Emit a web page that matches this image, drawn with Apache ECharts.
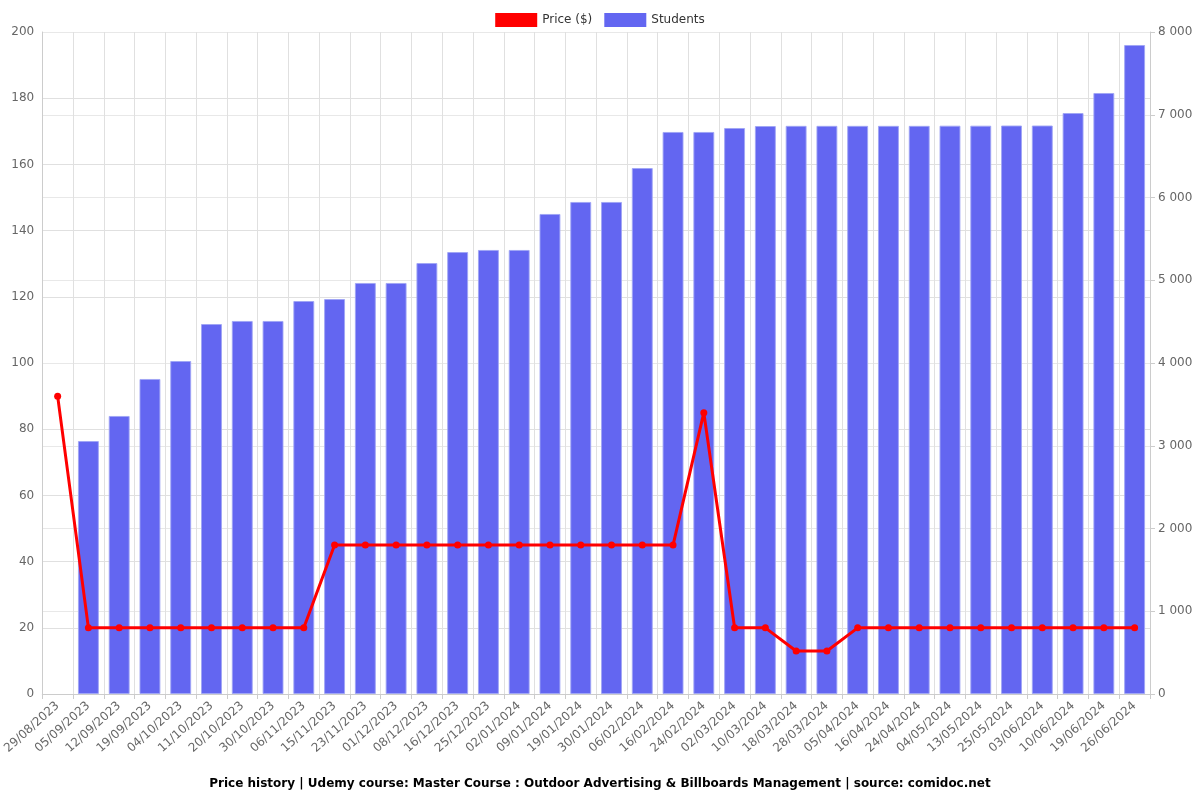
<!DOCTYPE html>
<html><head><meta charset="utf-8">
<script src="https://cdn.jsdelivr.net/npm/echarts@6/dist/echarts.min.js"></script>
<style>html,body{margin:0;padding:0;background:#fff}#c{width:1200px;height:800px}</style>
</head><body><div id="c"></div>
<script>
var categories = ["29/08/2023","05/09/2023","12/09/2023","19/09/2023","04/10/2023","11/10/2023","20/10/2023","30/10/2023","06/11/2023","15/11/2023","23/11/2023","01/12/2023","08/12/2023","16/12/2023","25/12/2023","02/01/2024","09/01/2024","19/01/2024","30/01/2024","06/02/2024","16/02/2024","24/02/2024","02/03/2024","10/03/2024","18/03/2024","28/03/2024","05/04/2024","16/04/2024","24/04/2024","04/05/2024","13/05/2024","25/05/2024","03/06/2024","10/06/2024","19/06/2024","26/06/2024"];
var price = [89.99,19.99,19.99,19.99,19.99,19.99,19.99,19.99,19.99,44.99,44.99,44.99,44.99,44.99,44.99,44.99,44.99,44.99,44.99,44.99,44.99,84.99,19.99,19.99,12.99,12.99,19.99,19.99,19.99,19.99,19.99,19.99,19.99,19.99,19.99,19.99];
var students = [null,3057,3360,3807,4024,4471,4508,4508,4749,4773,4967,4967,5208,5341,5366,5366,5801,5946,5946,6356,6792,6792,6840,6864,6866,6866,6866,6866,6866,6868,6868,6870,6870,7021,7263,7843];
var titleText = "Price history | Udemy course: Master Course : Outdoor Advertising & Billboards Management | source: comidoc.net";

var chart = echarts.init(document.getElementById('c'));
function fmtSpace(v){ return String(v).replace(/\B(?=(\d{3})+(?!\d))/g, ' '); }
chart.setOption({
  animation: false,
  textStyle: { fontFamily: 'DejaVu Sans' },
  title: { text: titleText, left: 'center', bottom: 5, textStyle: { fontSize: 12, fontWeight: 'bold', color: '#000', fontFamily: 'DejaVu Sans' } },
  legend: { top: 8, left: 'center', itemWidth: 42, itemHeight: 14, itemGap: 12, textStyle: { fontSize: 12, color: '#333' },
    data: [{name: 'Price ($)', icon: 'rect', itemStyle: {borderWidth: 0}}, {name: 'Students', icon: 'rect', itemStyle: {borderWidth: 0}}] },
  grid: { left: 42, right: 50, top: 32, bottom: 106 },
  xAxis: {
    type: 'category', data: categories, boundaryGap: true,
    axisLine: { lineStyle: { color: '#ccc' } },
    axisTick: { show: true, alignWithLabel: false, lineStyle: { color: '#ccc' } },
    splitLine: { show: true, lineStyle: { color: '#e0e0e0' } },
    axisLabel: { rotate: 42, interval: 0, color: '#666', fontSize: 12, margin: 10 }
  },
  yAxis: [
    { type: 'value', min: 0, max: 200, interval: 20, position: 'left',
      axisLine: { show: true, lineStyle: { color: '#ccc' } },
      axisLabel: { color: '#666', fontSize: 12 },
      splitLine: { lineStyle: { color: '#e0e0e0' } } },
    { type: 'value', min: 0, max: 8000, interval: 1000, position: 'right',
      axisLine: { show: true, lineStyle: { color: '#ccc' } },
      axisTick: { show: true, lineStyle: { color: '#ccc' } },
      axisLabel: { color: '#666', fontSize: 12, formatter: fmtSpace },
      splitLine: { lineStyle: { color: '#e8e8e8' } } }
  ],
  series: [
    { name: 'Students', type: 'bar', yAxisIndex: 1, data: students, barWidth: '68%',
      itemStyle: { color: '#6366f1', borderColor: 'rgba(160,165,245,0.9)', borderWidth: 1 }, z: 1 },
    { name: 'Price ($)', type: 'line', yAxisIndex: 0, data: price,
      itemStyle: { color: '#ff0000' }, lineStyle: { color: '#ff0000', width: 3 },
      symbol: 'circle', symbolSize: 7, z: 3 }
  ]
});
</script></body></html>
